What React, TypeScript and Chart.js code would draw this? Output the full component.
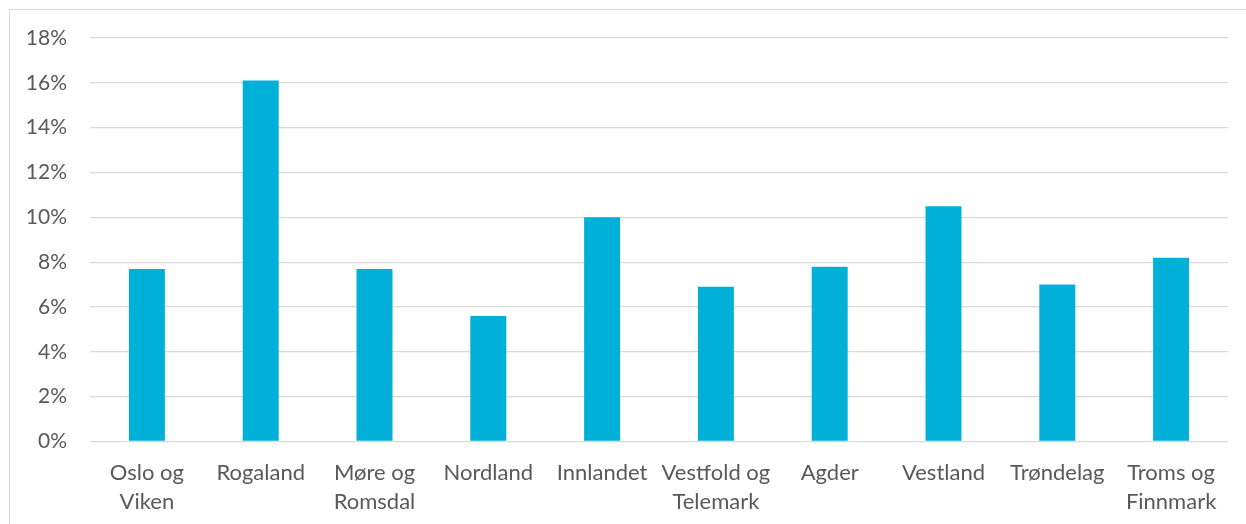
import React, { useEffect, useRef } from "react";
import { Chart, registerables } from "chart.js";

Chart.register(...registerables);

const categories: (string | string[])[] = [
  ["Oslo og", "Viken"],
  "Rogaland",
  ["Møre og", "Romsdal"],
  "Nordland",
  "Innlandet",
  ["Vestfold og", "Telemark"],
  "Agder",
  "Vestland",
  "Trøndelag",
  ["Troms og", "Finnmark"],
];

const values: number[] = [7.7, 16.1, 7.7, 5.6, 10.0, 6.9, 7.8, 10.5, 7.0, 8.2];

const yTicks: number[] = [0, 2, 4, 6, 8, 10, 12, 14, 16, 18];

const FONT = "Lato, 'Noto Sans', sans-serif";

export default function App() {
  const ref = useRef<HTMLCanvasElement | null>(null);

  useEffect(() => {
    if (!ref.current) return;
    const chart = new Chart(ref.current, {
      type: "bar",
      data: {
        labels: categories,
        datasets: [
          {
            data: values,
            backgroundColor: "#00B0D8",
            borderWidth: 0,
            barPercentage: 0.316,
            categoryPercentage: 1,
          },
        ],
      },
      options: {
        animation: false,
        responsive: false,
        maintainAspectRatio: false,
        layout: { padding: { top: 38, right: 18, left: 0, bottom: 0 } },
        plugins: { legend: { display: false }, tooltip: { enabled: false } },
        scales: {
          x: {
            grid: { display: false, drawTicks: false },
            border: { display: false },
            ticks: {
              color: "#595959",
              font: { family: FONT, size: 22, lineHeight: 1.32 },
              padding: 17,
              maxRotation: 0,
              autoSkip: false,
            },
            afterFit: (s: any) => {
              s.height = 82.5;
            },
          },
          y: {
            min: 0,
            max: 18,
            afterBuildTicks: (s: any) => {
              s.ticks = yTicks.map((v) => ({ value: v }));
            },
            grid: { color: "#d9d9d9", lineWidth: 1.3, drawTicks: false },
            border: { display: false },
            ticks: {
              color: "#595959",
              font: { family: FONT, size: 21 },
              padding: 23,
              callback: (v: any) => `${v}%`,
            },
            afterFit: (s: any) => {
              s.width = 90;
            },
          },
        },
      },
    });
    return () => chart.destroy();
  }, []);

  return (
    <div
      style={{
        position: "fixed",
        left: 0,
        top: 0,
        width: 1246,
        height: 524,
        overflow: "hidden",
        background: "#fff",
      }}
    >
      <div
        style={{
          position: "absolute",
          left: 9,
          top: 9,
          width: 1300,
          height: 600,
          borderLeft: "1.3px solid #d9d9d9",
          borderTop: "1.3px solid #d9d9d9",
        }}
      />
      <canvas
        ref={ref}
        width={1246}
        height={524}
        style={{ position: "absolute", left: 0, top: 0, width: 1246, height: 524 }}
      />
    </div>
  );
}
